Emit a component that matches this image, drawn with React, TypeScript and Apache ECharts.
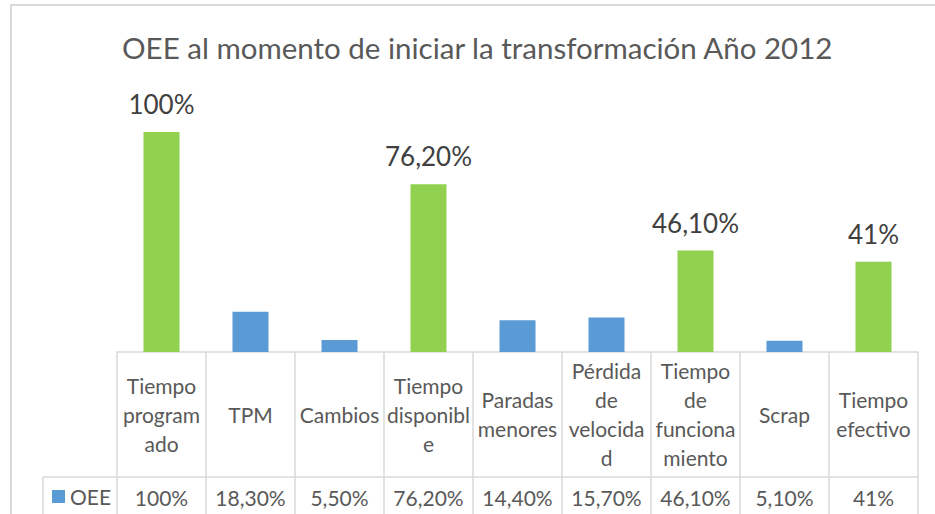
import React, { useEffect, useRef } from "react";
import * as echarts from "echarts";

const chartTitle = "OEE al momento de iniciar la transformación Año 2012";
const seriesName = "OEE";
const categories = [
  "Tiempo programado",
  "TPM",
  "Cambios",
  "Tiempo disponible",
  "Paradas menores",
  "Pérdida de velocidad",
  "Tiempo de funcionamiento",
  "Scrap",
  "Tiempo efectivo",
];
const tableLabels = [
  "Tiempo\nprogram\nado",
  "TPM",
  "Cambios",
  "Tiempo\ndisponibl\ne",
  "Paradas\nmenores",
  "Pérdida\nde\nvelocida\nd",
  "Tiempo\nde\nfunciona\nmiento",
  "Scrap",
  "Tiempo\nefectivo",
];
const oeeValues = [100, 18.3, 5.5, 76.2, 14.4, 15.7, 46.1, 5.1, 41];
const isTotal = [true, false, false, true, false, false, true, false, true];

const FONT = "Lato";
const GRID = "#D9D9D9";
const TEXT = "#595959";

function fmt(v: number): string {
  return Number.isInteger(v) ? `${v}%` : `${v.toFixed(2).replace(".", ",")}%`;
}

export default function App() {
  const ref = useRef<HTMLDivElement>(null);
  useEffect(() => {
    if (!ref.current) return;
    const chart = echarts.init(ref.current, undefined, { renderer: "svg" });
    chart.setOption({
      animation: false,
      backgroundColor: "#ffffff",
      title: {
        text: chartTitle,
        left: 122,
        top: 32,
        padding: 0,
        textStyle: { fontFamily: FONT, fontSize: 29.5, fontWeight: "normal", color: TEXT },
      },
      legend: {
        data: [seriesName],
        left: 52,
        top: 486,
        padding: 0,
        icon: "rect",
        itemWidth: 13,
        itemHeight: 13,
        itemGap: 6,
        textStyle: { fontFamily: FONT, fontSize: 21, color: TEXT },
      },
      grid: { left: 117, right: 17, top: 132, bottom: 162, containLabel: false },
      xAxis: [
        {
          type: "category",
          data: categories,
          position: "bottom",
          axisLine: { show: true, lineStyle: { color: GRID, width: 1.5 } },
          axisTick: { show: true, length: 180, interval: 0, lineStyle: { color: GRID, width: 1.5 } },
          axisLabel: {
            interval: 0,
            formatter: (_v: string, i: number) => tableLabels[i],
            margin: 62,
            verticalAlign: "middle",
            align: "center",
            color: TEXT,
            fontFamily: FONT,
            fontSize: 21,
            lineHeight: 29,
          },
        },
        {
          type: "category",
          data: categories,
          position: "bottom",
          offset: 125,
          axisLine: { show: true, lineStyle: { color: GRID, width: 1.5 } },
          axisTick: { show: false },
          axisLabel: {
            interval: 0,
            formatter: (_v: string, i: number) => fmt(oeeValues[i]),
            margin: 20,
            verticalAlign: "middle",
            align: "center",
            color: TEXT,
            fontFamily: FONT,
            fontSize: 21,
          },
        },
      ],
      yAxis: { type: "value", min: 0, max: 100, show: false },
      series: [
        {
          name: seriesName,
          type: "bar",
          xAxisIndex: 0,
          barWidth: 36,
          itemStyle: { color: "#5B9BD5" },
          label: {
            position: "top",
            distance: 15,
            formatter: (p: any) => fmt(p.value),
            fontFamily: FONT,
            fontSize: 26,
            color: "#404040",
          },
          data: oeeValues.map((v, i) => ({
            value: v,
            itemStyle: isTotal[i] ? { color: "#92D050" } : undefined,
            label: { show: isTotal[i] },
          })),
        },
      ],
      graphic: [
        {
          type: "rect",
          shape: { x: 11, y: 5, width: 960, height: 600 },
          style: { fill: "none", stroke: GRID, lineWidth: 2 },
          silent: true,
        },
        {
          type: "line",
          shape: { x1: 43, y1: 477, x2: 117, y2: 477 },
          style: { stroke: GRID, lineWidth: 1.5 },
          silent: true,
        },
        {
          type: "line",
          shape: { x1: 43, y1: 477, x2: 43, y2: 530 },
          style: { stroke: GRID, lineWidth: 1.5 },
          silent: true,
        },
      ],
    });
    return () => chart.dispose();
  }, []);
  return (
    <div
      ref={ref}
      style={{ position: "absolute", left: 0, top: 0, width: 935, height: 514 }}
    />
  );
}
